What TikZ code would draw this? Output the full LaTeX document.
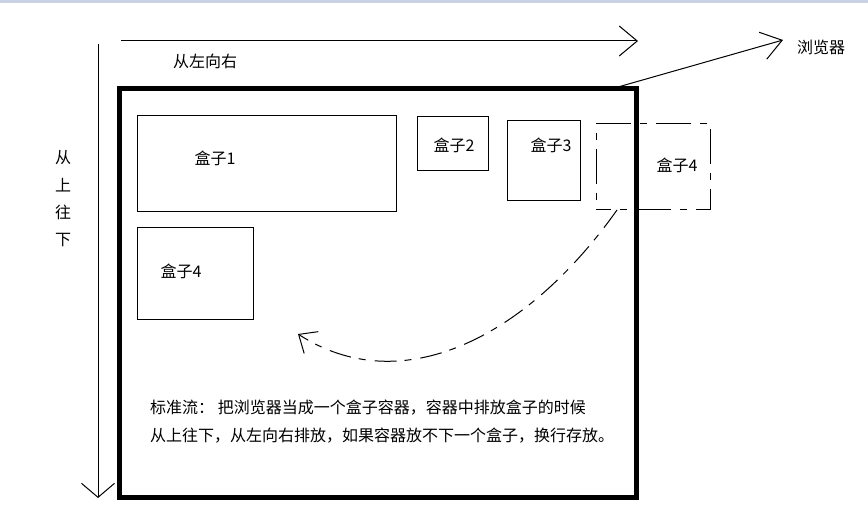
\documentclass[tikz,border=0pt]{standalone}
\usepackage{fontspec}
\setmainfont{Noto Sans CJK SC}
\usetikzlibrary{arrows.meta}
\definecolor{bandcol}{RGB}{200,210,226}
\tikzset{
  thinline/.style={line width=1pt, draw=black},
  boxline/.style={draw=black, line width=1pt, inner sep=0pt, outer sep=0pt, anchor=north west},
  dashbox/.style={boxline, dash pattern=on 35pt off 9pt on 7pt off 9pt, dash phase=20pt},
  lbl/.style={inner sep=0pt, font=\fontsize{16}{19}\selectfont},
  curvedash/.style={thinline, dash pattern=on 22pt off 9pt on 7pt off 8pt},
}
\begin{document}
\begin{tikzpicture}[x=1pt,y=-1pt]
\useasboundingbox (0,0) rectangle (868,518);
\fill[bandcol] (0,0) rectangle (868,3);

% container
\node[draw=black, line width=5pt, inner sep=0pt, outer sep=0pt, anchor=north west,
      minimum width=517pt, minimum height=408.5pt] (container) at (119.5,89) {};

% boxes
\node[boxline, minimum width=259pt, minimum height=96.5pt] (b1) at (137,115.5) {};
\node[boxline, minimum width=71pt, minimum height=54pt] (b2) at (417,117) {};
\node[boxline, minimum width=73pt, minimum height=80.5pt] (b3) at (507,120.5) {};
\node[dashbox, minimum width=114.5pt, minimum height=86pt] (b4d) at (596,124) {};
\node[boxline, minimum width=116pt, minimum height=92pt] (b4) at (137,228) {};

% box labels
\node[lbl] (t1) at (215,158) {盒子1};
\node[lbl] (t2) at (454,145) {盒子2};
\node[lbl] (t3) at (551,145) {盒子3};
\node[lbl] (t4d) at (677,165) {盒子4};
\node[lbl] (t4) at (181,271) {盒子4};

% direction labels
\node[lbl] (lr) at (205,61) {从左向右};
\node[lbl] (browser) at (821,47) {浏览器};
\node[lbl] (v1) at (63,158) {从};
\node[lbl] (v2) at (63,185) {上};
\node[lbl] (v3) at (63,212) {往};
\node[lbl] (v4) at (63,240) {下};

% description
\node[lbl, anchor=west] (d1) at (150,408) {标准流： 把浏览器当成一个盒子容器，容器中排放盒子的时候};
\node[lbl, anchor=west] (d2) at (150,436) {从上往下，从左向右排放，如果容器放不下一个盒子，换行存放。};

% arrows
\coordinate (hs) at (121,41);
\coordinate (he) at (638,41);
\draw[thinline, -{Straight Barb[length=18pt,width=30pt,line width=1pt]}] (hs) -- (he);

\coordinate (vs) at (98,44);
\coordinate (ve) at (98,498);
\draw[thinline, -{Straight Barb[length=14pt,width=33pt,line width=1pt]}] (vs) -- (ve);

\coordinate (bs) at (618,87);
\coordinate (be) at (783,40);
\draw[thinline, -{Straight Barb[length=20pt,width=28pt,line width=1pt]}] (bs) -- (be);

\coordinate (cs) at (617,210);
\coordinate (ce) at (298,334);
\draw[curvedash, -{Straight Barb[length=15pt,width=26pt,line width=1pt]}]
  (cs) .. controls (525,340) and (400,400) .. (ce);
\end{tikzpicture}
\end{document}
